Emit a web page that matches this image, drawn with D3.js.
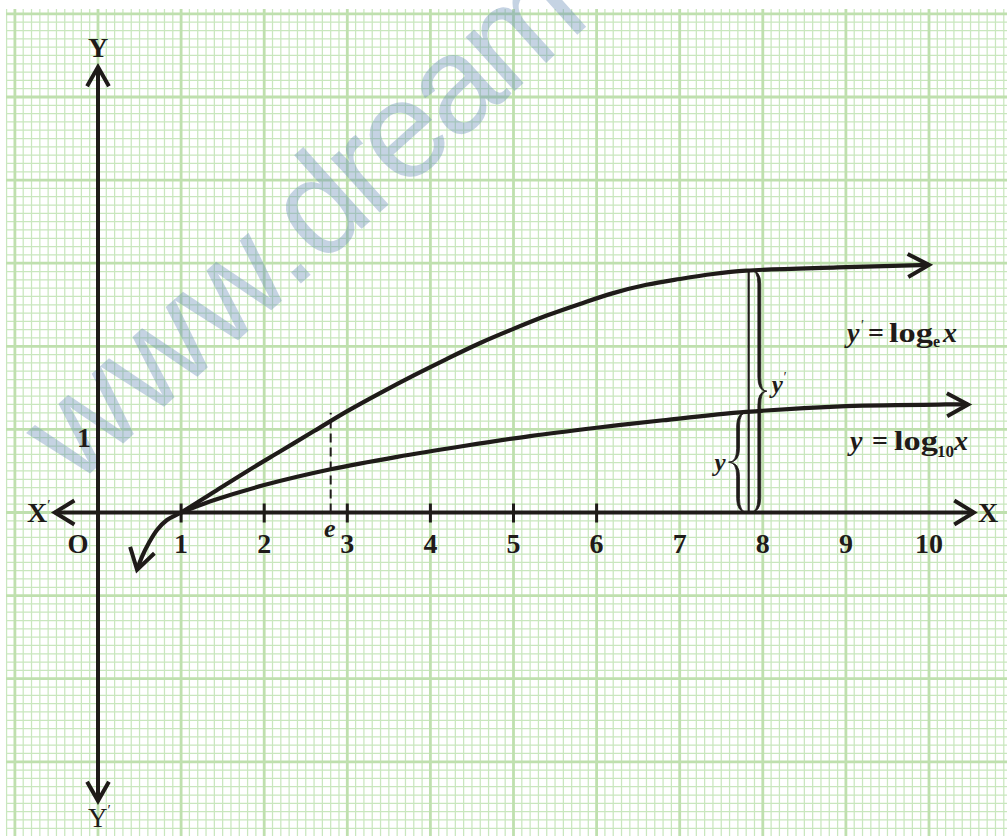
<!DOCTYPE html>
<html>
<head>
<meta charset="utf-8">
<script src="https://cdn.jsdelivr.net/npm/d3@7"></script>
<style>
  html, body { margin: 0; padding: 0; background: #ffffff; }
  svg { display: block; }
</style>
</head>
<body>
<svg id="chart" width="1007" height="836"></svg>
<script>
// ---- data -------------------------------------------------------------
// numbered positions along the x-axis
const xTickValues = [1, 2, 3, 4, 5, 6, 7, 8, 9, 10];
const xTickLabels = ["1", "2", "3", "4", "5", "6", "7", "8", "9", "10"];
// positions that carry a small tick mark on the x-axis
const xTickMarks = [1, 2, 3, 4, 5, 6];
// labelled unit on the y-axis
const yTickValues = [1];
const yTickLabels = ["1"];

// y' = log_e x  (sketched curve, including its branch below x = 1)
const logEx = [0.47, 0.53, 0.61, 0.71, 0.83, 1.00, 1.40, 1.80, 2.20, 2.60, 3.00, 3.40, 3.80,
               4.20, 4.60, 5.00, 5.40, 5.80, 6.20, 6.60, 7.00, 7.40, 7.80, 8.90, 10.00];
const logEy = [-0.69, -0.53, -0.37, -0.21, -0.09, 0.00, 0.25, 0.50, 0.74, 0.98, 1.22, 1.44, 1.65,
               1.85, 2.04, 2.21, 2.37, 2.51, 2.64, 2.74, 2.81, 2.87, 2.91, 2.95, 2.98];

// y = log_10 x  (sketched curve)
const log10x = [1.00, 1.40, 2.00, 2.80, 3.60, 4.40, 5.20, 6.00, 6.80, 7.80, 9.00, 10.20, 10.47];
const log10y = [0.00, 0.15, 0.33, 0.52, 0.67, 0.80, 0.92, 1.02, 1.11, 1.21, 1.28, 1.30, 1.30];

// dashed guide at x = e, and the comparison ordinate near x = 8
const eGuideX = 2.8, eGuideTop = 1.2;
const ordinateX = 7.83, ordinateLog10 = 1.21, ordinateLogE = 2.92;

// ---- layout -----------------------------------------------------------
const W = 1007, H = 836;
const ink = "#1f1b19";
const serif = "'Liberation Serif','Times New Roman',serif";
const svg = d3.select("#chart");

const x = d3.scaleLinear().domain([0, 10]).range([98, 929]);
const y = d3.scaleLinear().domain([0, 1]).range([512.5, 429.4]);

// ---- graph paper ------------------------------------------------------
const paper = { x0: 6, x1: W, y0: 9, y1: H };
const grid = svg.append("g");
const colIdx = d3.range(Math.ceil(x.invert(paper.x0) * 10), Math.floor(x.invert(paper.x1) * 10) + 1);
const rowIdx = d3.range(Math.ceil(y.invert(paper.y1) * 10), Math.floor(y.invert(paper.y0) * 10) + 1);

function drawGrid(isMajor) {
  const cols = colIdx.filter(i => (i % 10 === 0) === isMajor);
  const rows = rowIdx.filter(i => (i % 10 === 0) === isMajor);
  const g = grid.append("g")
    .attr("stroke", isMajor ? "#bfe0ae" : "#c9e7be")
    .attr("stroke-width", isMajor ? 2.8 : 1.25);
  g.selectAll("line.v").data(cols).join("line")
    .attr("x1", i => x(i / 10)).attr("x2", i => x(i / 10))
    .attr("y1", paper.y0).attr("y2", paper.y1);
  g.selectAll("line.h").data(rows).join("line")
    .attr("x1", paper.x0).attr("x2", paper.x1)
    .attr("y1", i => y(i / 10)).attr("y2", i => y(i / 10));
}
drawGrid(false);
drawGrid(true);

// ---- site watermark ---------------------------------------------------
const wm = svg.append("text")
  .attr("transform", "translate(75,487) rotate(-42)")
  .attr("font-family", "'Liberation Sans',Arial,sans-serif")
  .attr("font-size", 138)
  .attr("fill", "rgb(110,145,185)")
  .attr("fill-opacity", 0.4);
wm.append("tspan").text("www.");
wm.append("tspan").attr("letter-spacing", -6).text("dream");

// ---- helpers ----------------------------------------------------------
function chevron(tip, angle, len, spread) {
  const a1 = angle + Math.PI - spread, a2 = angle + Math.PI + spread;
  return `M${tip[0] + len * Math.cos(a1)},${tip[1] + len * Math.sin(a1)}` +
         `L${tip[0]},${tip[1]}` +
         `L${tip[0] + len * Math.cos(a2)},${tip[1] + len * Math.sin(a2)}`;
}
function arrowAt(g, p, q, len = 23, spread = 0.52) {
  // arrow head at p, travelling from q towards p
  const ang = Math.atan2(p[1] - q[1], p[0] - q[0]);
  g.append("path").attr("d", chevron(p, ang, len, spread))
    .attr("fill", "none").attr("stroke", ink).attr("stroke-width", 4)
    .attr("stroke-linejoin", "miter").attr("stroke-miterlimit", 10);
}
// filled curly brace: thick along its straight runs, tapering to the ends and the tip
function bracePath(x0, yTop, yBot, depth, tip, thick) {
  const ym = (yTop + yBot) / 2, r = 14;
  const xs = x0 + depth, xi = x0 + depth - Math.sign(depth) * thick, xt = xs + tip;
  return `M${x0},${yTop}` +
         `Q${xs},${yTop} ${xs},${yTop + r}` +
         `L${xs},${ym - r}` +
         `Q${xs},${ym} ${xt},${ym}` +
         `Q${xs},${ym} ${xs},${ym + r}` +
         `L${xs},${yBot - r}` +
         `Q${xs},${yBot} ${x0},${yBot}` +
         `Q${xi},${yBot} ${xi},${yBot - r}` +
         `L${xi},${ym + r}` +
         `Q${xi},${ym} ${xt},${ym}` +
         `Q${xi},${ym} ${xi},${ym - r}` +
         `L${xi},${yTop + r}` +
         `Q${xi},${yTop} ${x0},${yTop}Z`;
}

// ---- axes -------------------------------------------------------------
const axes = svg.append("g");
const xAxisLeft = -0.52, xAxisRight = 10.54, yAxisTop = 5.36, yAxisBottom = -3.47;
axes.append("line")
  .attr("x1", x(xAxisLeft)).attr("x2", x(xAxisRight)).attr("y1", y(0)).attr("y2", y(0))
  .attr("stroke", ink).attr("stroke-width", 4);
axes.append("line")
  .attr("x1", x(0)).attr("x2", x(0)).attr("y1", y(yAxisTop)).attr("y2", y(yAxisBottom))
  .attr("stroke", ink).attr("stroke-width", 4);
arrowAt(axes, [x(xAxisRight), y(0)], [x(0), y(0)], 23, 0.55);
arrowAt(axes, [x(xAxisLeft), y(0)], [x(0), y(0)], 23, 0.55);
arrowAt(axes, [x(0), y(yAxisTop)], [x(0), y(0)], 22, 0.52);
arrowAt(axes, [x(0), y(yAxisBottom)], [x(0), y(0)], 22, 0.52);

axes.selectAll("line.tick").data(xTickMarks).join("line")
  .attr("x1", d => x(d)).attr("x2", d => x(d))
  .attr("y1", y(0) - 9).attr("y2", y(0) + 10)
  .attr("stroke", ink).attr("stroke-width", 3);

const labels = svg.append("g").attr("font-family", serif).attr("fill", ink);
labels.selectAll("text.xl").data(xTickValues).join("text")
  .attr("x", d => x(d)).attr("y", y(0) + 40)
  .attr("text-anchor", "middle").attr("font-weight", "bold").attr("font-size", 28)
  .text((d, i) => xTickLabels[i]);
labels.selectAll("text.yl").data(yTickValues).join("text")
  .attr("x", x(0) - 14).attr("y", d => y(d) + 18)
  .attr("text-anchor", "middle").attr("font-weight", "bold").attr("font-size", 28)
  .text((d, i) => yTickLabels[i]);
labels.append("text")
  .attr("x", x(0) - 20).attr("y", y(0) + 40)
  .attr("text-anchor", "middle").attr("font-weight", "bold").attr("font-size", 27)
  .text("O");
labels.append("text")
  .attr("x", x(eGuideX) - 1).attr("y", y(0) + 24)
  .attr("text-anchor", "middle").attr("font-weight", "bold").attr("font-style", "italic")
  .attr("font-size", 26).text("e");

// axis names
labels.append("text").attr("x", x(0)).attr("y", 57)
  .attr("text-anchor", "middle").attr("font-weight", "bold").attr("font-size", 28).text("Y");
const yp = labels.append("text").attr("x", x(0) - 10).attr("y", 827)
  .attr("font-size", 27);
yp.append("tspan").text("Y");
yp.append("tspan").attr("font-size", 15).attr("dy", -12).text("′");
labels.append("text").attr("x", 988).attr("y", 522)
  .attr("text-anchor", "middle").attr("font-weight", "bold").attr("font-size", 28).text("X");
const xp = labels.append("text").attr("x", 27).attr("y", 522)
  .attr("font-weight", "bold").attr("font-size", 28);
xp.append("tspan").text("X");
xp.append("tspan").attr("font-size", 15).attr("font-weight", "normal").attr("dy", -12).text("′");

// ---- curves -----------------------------------------------------------
const line = d3.line().x(d => x(d[0])).y(d => y(d[1])).curve(d3.curveCatmullRom.alpha(0.5));
const curveE = logEx.map((v, i) => [v, logEy[i]]);
const curve10 = log10x.map((v, i) => [v, log10y[i]]);
const curves = svg.append("g");
[curveE, curve10].forEach(pts => {
  curves.append("path").attr("d", line(pts))
    .attr("fill", "none").attr("stroke", ink).attr("stroke-width", 4.2)
    .attr("stroke-linecap", "butt");
});
const px = d => [x(d[0]), y(d[1])];
arrowAt(curves, px(curveE[curveE.length - 1]), px(curveE[curveE.length - 2]), 24, 0.5);
arrowAt(curves, px(curve10[curve10.length - 1]), px(curve10[curve10.length - 3]), 24, 0.5);
arrowAt(curves, px(curveE[0]), [x(0.52), y(-0.50)], 24, 0.55);

// dashed guide at e
curves.append("line")
  .attr("x1", x(eGuideX)).attr("x2", x(eGuideX))
  .attr("y1", y(0)).attr("y2", y(eGuideTop))
  .attr("stroke", ink).attr("stroke-width", 2).attr("stroke-dasharray", "9,5");

// ordinate near x = 8 with its braces
curves.append("line")
  .attr("x1", x(ordinateX)).attr("x2", x(ordinateX))
  .attr("y1", y(0)).attr("y2", y(ordinateLogE))
  .attr("stroke", ink).attr("stroke-width", 2.2);
curves.append("path")
  .attr("d", bracePath(x(ordinateX) + 1, y(ordinateLogE), y(0), 11, 6, 2.8))
  .attr("fill", ink).attr("stroke", ink).attr("stroke-width", 0.8);
curves.append("path")
  .attr("d", bracePath(x(ordinateX) - 1, y(ordinateLog10), y(0), -11, -8, 2.8))
  .attr("fill", ink).attr("stroke", ink).attr("stroke-width", 0.8);

const braceLab = svg.append("g").attr("font-family", serif).attr("fill", ink)
  .attr("font-weight", "bold").attr("font-style", "italic").attr("font-size", 25);
const bl1 = braceLab.append("text")
  .attr("x", x(ordinateX) + 23).attr("y", (y(ordinateLogE) + y(0)) / 2 + 2);
bl1.append("tspan").text("y");
bl1.append("tspan").attr("font-size", 14).attr("font-weight", "normal").attr("dy", -11).text("′");
braceLab.append("text")
  .attr("x", x(ordinateX) - 23).attr("y", (y(ordinateLog10) + y(0)) / 2 + 9)
  .attr("text-anchor", "end").text("y");

// ---- curve names ------------------------------------------------------
const nameG = svg.append("g").attr("font-family", serif).attr("fill", ink)
  .attr("font-weight", "bold").attr("font-size", 28);
const nE = nameG.append("text").attr("y", 342);
nE.append("tspan").attr("x", 847).attr("font-style", "italic").text("y");
nE.append("tspan").attr("x", 861).attr("dy", -12).attr("font-size", 14).attr("font-weight", "normal").text("′");
nE.append("tspan").attr("x", 868).attr("dy", 12).text("=");
nE.append("tspan").attr("x", 889).attr("textLength", 44).attr("lengthAdjust", "spacingAndGlyphs").text("log");
nE.append("tspan").attr("x", 933).attr("dy", 5).attr("font-size", 16).text("e");
nE.append("tspan").attr("x", 943).attr("dy", -5).attr("font-style", "italic").text("x");

const n10 = nameG.append("text").attr("y", 450);
n10.append("tspan").attr("x", 850).attr("font-style", "italic").text("y");
n10.append("tspan").attr("x", 872).text("=");
n10.append("tspan").attr("x", 894).attr("textLength", 44).attr("lengthAdjust", "spacingAndGlyphs").text("log");
n10.append("tspan").attr("x", 937).attr("dy", 7).attr("font-size", 17).text("10");
n10.append("tspan").attr("x", 954).attr("dy", -7).attr("font-style", "italic").text("x");
</script>
</body>
</html>
